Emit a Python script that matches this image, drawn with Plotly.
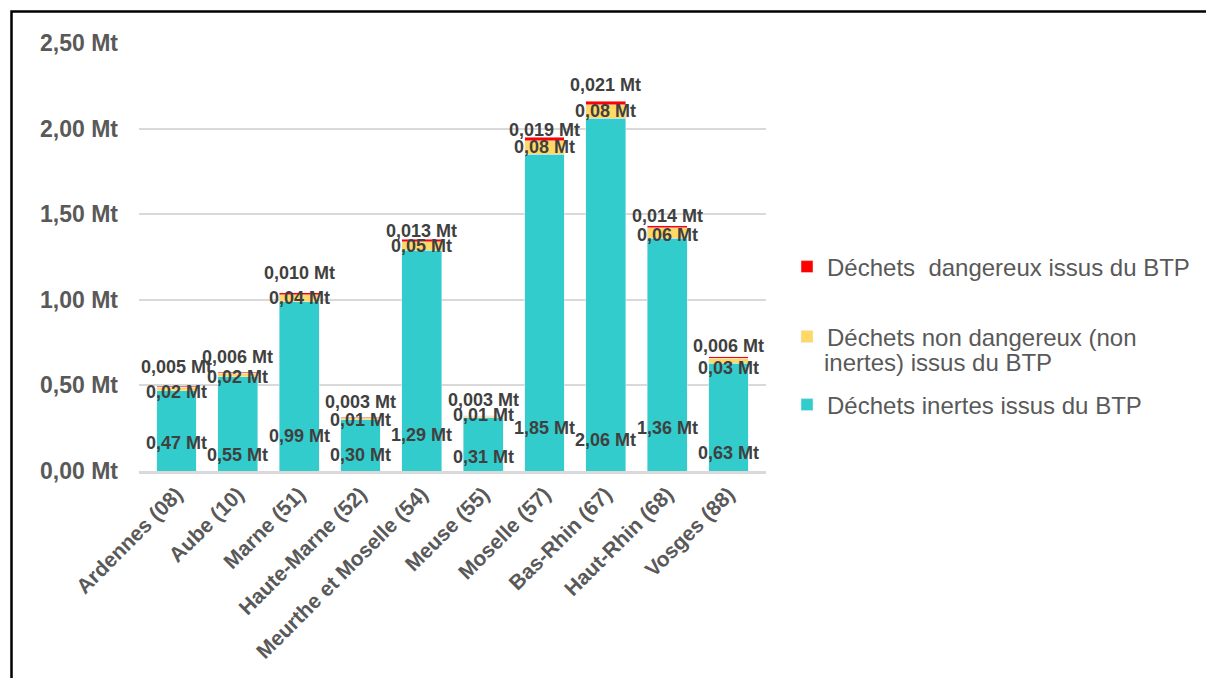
import plotly.graph_objects as go

categories = ["Ardennes (08)", "Aube (10)", "Marne (51)", "Haute-Marne (52)",
              "Meurthe et Moselle (54)", "Meuse (55)", "Moselle (57)",
              "Bas-Rhin (67)", "Haut-Rhin (68)", "Vosges (88)"]
inertes = [0.47, 0.55, 0.99, 0.30, 1.29, 0.31, 1.85, 2.06, 1.36, 0.63]
non_dangereux = [0.02, 0.02, 0.04, 0.01, 0.05, 0.01, 0.08, 0.08, 0.06, 0.03]
dangereux = [0.005, 0.006, 0.010, 0.003, 0.013, 0.003, 0.019, 0.021, 0.014, 0.006]
y_ticks = [0, 0.5, 1.0, 1.5, 2.0, 2.5]

name_inertes = "Déchets inertes issus du BTP"
name_nd_line1 = "Déchets non dangereux (non"
name_nd_line2 = "inertes) issus du BTP"
name_d = "Déchets\u00a0 dangereux issus du BTP"

# label pixel offsets (style/position only)
shift_inertes = [28, 16, 35, 16, 36, 14, 43, 31, 43, 18]
shift_nd = [-3, -2, 0, -1, 0, 2, 0, 0, -2, -7]
shift_d = [19, 15, 20, 15, 8, 16, 7, 16, 10, 11]

C_INERT = "#33CCCC"
C_ND = "#FFD966"
C_D = "#FF0000"
FONT = "Liberation Sans, Arial, sans-serif"

def fmt(v, d):
    return f"{v:.{d}f}".replace(".", ",") + " Mt"

fig = go.Figure()
fig.add_trace(go.Bar(x=categories, y=inertes, name=name_inertes, marker_color=C_INERT,
                     legend="legend3"))
fig.add_trace(go.Bar(x=categories, y=non_dangereux, name=name_nd_line1, marker_color=C_ND,
                     legend="legend2"))
fig.add_trace(go.Bar(x=categories, y=dangereux, name=name_d, marker_color=C_D,
                     legend="legend"))

lab_font = dict(family=FONT, size=18, color="#404040")
anns = []
for i, c in enumerate(categories):
    anns.append(dict(x=c, y=0, text="<b>" + fmt(inertes[i], 2) + "</b>", showarrow=False,
                     yanchor="middle", yshift=shift_inertes[i], font=lab_font))
    anns.append(dict(x=c, y=inertes[i] + non_dangereux[i] / 2, text="<b>" + fmt(non_dangereux[i], 2) + "</b>",
                     showarrow=False, yanchor="middle", yshift=shift_nd[i], font=lab_font))
    tot = inertes[i] + non_dangereux[i] + dangereux[i]
    anns.append(dict(x=c, y=tot, text="<b>" + fmt(dangereux[i], 3) + "</b>", showarrow=False,
                     yanchor="middle", yshift=shift_d[i], font=lab_font))

leg_font = dict(family=FONT, size=24, color="#595959")
anns.append(dict(xref="paper", yref="paper", x=(823 - 140) / 627, y=(471 - 362) / 428,
                 xanchor="left", yanchor="middle", text=name_nd_line2, showarrow=False,
                 font=leg_font))

W, H = 1206, 678
L, R, T, B = 139, W - 766, 43, H - 471

def px_x(p):
    return (p - L) / (W - L - R)

def px_y(p):
    return (H - B - p) / (H - T - B)

leg_common = dict(font=leg_font, bgcolor="rgba(0,0,0,0)", borderwidth=0,
                  xanchor="left", yanchor="middle", itemclick=False)

fig.update_layout(
    width=W, height=H,
    margin=dict(l=L, r=R, t=T, b=B, autoexpand=False),
    barmode="stack", bargap=0.35,
    paper_bgcolor="white", plot_bgcolor="white",
    font=dict(family=FONT),
    xaxis=dict(showline=True, linecolor="#D9D9D9", linewidth=2.5, tickangle=-45,
               tickfont=dict(family=FONT, size=21, color="#595959", weight="bold"), ticks="",
               showgrid=False),
    yaxis=dict(range=[0, 2.5], tickmode="array", tickvals=y_ticks,
               ticktext=[fmt(v, 2) for v in y_ticks],
               gridcolor="#D9D9D9", gridwidth=1.5, zeroline=False,
               tickfont=dict(family=FONT, size=23, color="#595959", weight="bold"),
               ticklabelstandoff=20),
    legend=dict(x=px_x(787), y=px_y(267), **leg_common),
    legend2=dict(x=px_x(787), y=px_y(337), **leg_common),
    legend3=dict(x=px_x(787), y=px_y(405), **leg_common),
    annotations=anns,
    shapes=[dict(type="rect", xref="paper", yref="paper",
                 x0=px_x(11.5), x1=px_x(1230), y0=px_y(700), y1=px_y(11.5),
                 line=dict(color="black", width=2.5), fillcolor="rgba(0,0,0,0)")],
    showlegend=True,
)

fig.write_html("out.html")
